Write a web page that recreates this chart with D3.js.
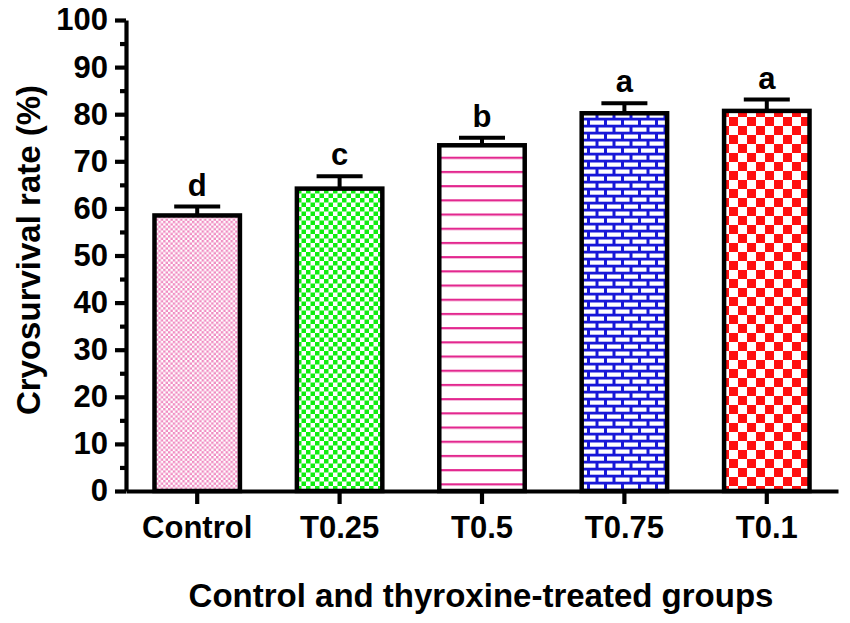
<!DOCTYPE html>
<html>
<head>
<meta charset="utf-8">
<script src="https://cdn.jsdelivr.net/npm/d3@7"></script>
<style>
  body { margin: 0; background: #fff; }
  text { font-family: "Liberation Sans", Arial, sans-serif; font-weight: bold; fill: #000; }
</style>
</head>
<body>
<div id="chart"></div>
<script>
// values
const groups = ["Control", "T0.25", "T0.5", "T0.75", "T0.1"];
const means = [58.5, 64.2, 73.4, 80.2, 80.7];
const errors = [1.9, 2.6, 1.6, 2.1, 2.4];
const letters = ["d", "c", "b", "a", "a"];
const yTicks = [0, 10, 20, 30, 40, 50, 60, 70, 80, 90, 100];
const yMinorTicks = [5, 15, 25, 35, 45, 55, 65, 75, 85, 95];

let width = 850;
let height = 623;
let margin = ({top: 20, right: 12, bottom: 132, left: 126});

let data = groups.map((g, i) => ({x: g, y: means[i], e: errors[i], l: letters[i], i: i}));

let x = d3.scaleBand()
    .domain(groups)
    .range([margin.left, width - margin.right])
    .paddingInner(0.4)
    .paddingOuter(0.2);

let y = d3.scaleLinear()
    .domain([0, 100])
    .range([height - margin.bottom, margin.top]);

let svg = d3.select("#chart")
    .append("svg")
    .attr("width", width)
    .attr("height", height)
    .attr("viewBox", [0, 0, width, height]);

// fill patterns
let defs = svg.append("defs");

function checker(id, size, color) {
    let p = defs.append("pattern")
        .attr("id", id)
        .attr("patternUnits", "userSpaceOnUse")
        .attr("width", size * 2)
        .attr("height", size * 2);
    p.append("rect").attr("width", size * 2).attr("height", size * 2).attr("fill", "#fff");
    p.append("rect").attr("width", size).attr("height", size).attr("fill", color);
    p.append("rect").attr("x", size).attr("y", size).attr("width", size).attr("height", size).attr("fill", color);
}
checker("pat0", 2.4, "#f08cc2");
checker("pat1", 4.5, "#10ee10");
checker("pat4", 9, "#ff1010");

let lines = defs.append("pattern")
    .attr("id", "pat2")
    .attr("patternUnits", "userSpaceOnUse")
    .attr("width", 20)
    .attr("height", 14.2)
    .attr("y", 0.5);
lines.append("rect").attr("width", 20).attr("height", 14.2).attr("fill", "#fff");
lines.append("rect").attr("y", 0).attr("width", 20).attr("height", 2.2).attr("fill", "#e3288f");

let brick = defs.append("pattern")
    .attr("id", "pat3")
    .attr("patternUnits", "userSpaceOnUse")
    .attr("width", 17)
    .attr("height", 14)
    .attr("x", 2);
brick.append("rect").attr("width", 17).attr("height", 14).attr("fill", "#1818d8");
brick.append("rect").attr("x", 1.5).attr("y", 1.5).attr("width", 14).attr("height", 4.2).attr("fill", "#fff");
brick.append("rect").attr("x", -7).attr("y", 8.5).attr("width", 14).attr("height", 4.2).attr("fill", "#fff");
brick.append("rect").attr("x", 10).attr("y", 8.5).attr("width", 14).attr("height", 4.2).attr("fill", "#fff");

// bars
svg.append("g")
    .attr("class", "bars")
    .selectAll("rect")
    .data(data)
    .join("rect")
    .attr("x", d => x(d.x))
    .attr("y", d => y(d.y))
    .attr("width", x.bandwidth())
    .attr("height", d => y(0) - y(d.y))
    .attr("fill", d => `url(#pat${d.i})`)
    .attr("stroke", "#000")
    .attr("stroke-width", 4.5);

// error bars (upper only)
let err = svg.append("g")
    .attr("class", "errors")
    .attr("stroke", "#000")
    .attr("stroke-width", 4);
err.selectAll("line.v")
    .data(data)
    .join("line")
    .attr("class", "v")
    .attr("x1", d => x(d.x) + x.bandwidth() / 2)
    .attr("x2", d => x(d.x) + x.bandwidth() / 2)
    .attr("y1", d => y(d.y))
    .attr("y2", d => y(d.y + d.e));
err.selectAll("line.cap")
    .data(data)
    .join("line")
    .attr("class", "cap")
    .attr("x1", d => x(d.x) + x.bandwidth() / 2 - 23)
    .attr("x2", d => x(d.x) + x.bandwidth() / 2 + 23)
    .attr("y1", d => y(d.y + d.e))
    .attr("y2", d => y(d.y + d.e));

// significance letters
svg.append("g")
    .selectAll("text")
    .data(data)
    .join("text")
    .attr("x", d => x(d.x) + x.bandwidth() / 2)
    .attr("y", d => y(d.y + d.e) - 11)
    .attr("text-anchor", "middle")
    .attr("font-size", 31)
    .text(d => d.l);

// axes
let yAxis = g => g
    .attr("transform", `translate(${margin.left},0)`)
    .call(d3.axisLeft(y).tickValues(yTicks).tickSize(11).tickPadding(7).tickSizeOuter(0))
    .call(g => g.selectAll("text").attr("font-size", 31).attr("font-family", null))
    .call(g => g.selectAll(".tick line, .domain").attr("stroke", "#000").attr("stroke-width", 4.2));

let yMinor = g => g
    .attr("transform", `translate(${margin.left},0)`)
    .call(d3.axisLeft(y).tickValues(yMinorTicks).tickSize(6).tickFormat("").tickSizeOuter(0))
    .call(g => g.select(".domain").remove())
    .call(g => g.selectAll(".tick line").attr("stroke", "#000").attr("stroke-width", 4.2));

let xAxis = g => g
    .attr("transform", `translate(0,${height - margin.bottom})`)
    .call(d3.axisBottom(x).tickSize(13).tickPadding(12).tickSizeOuter(0))
    .call(g => g.selectAll("text").attr("font-size", 31).attr("font-family", null))
    .call(g => g.selectAll(".tick line, .domain").attr("stroke", "#000").attr("stroke-width", 4.2));

svg.append("g").attr("class", "y-minor").call(yMinor);
svg.append("g").attr("class", "y-axis").call(yAxis);
svg.append("g").attr("class", "x-axis").call(xAxis);

// axis titles
svg.append("text")
    .attr("transform", "translate(40,250) rotate(-90)")
    .attr("text-anchor", "middle")
    .attr("font-size", 33)
    .text("Cryosurvival rate (%)");

svg.append("text")
    .attr("x", 481)
    .attr("y", 607)
    .attr("text-anchor", "middle")
    .attr("font-size", 33)
    .text("Control and thyroxine-treated groups");
</script>
</body>
</html>
